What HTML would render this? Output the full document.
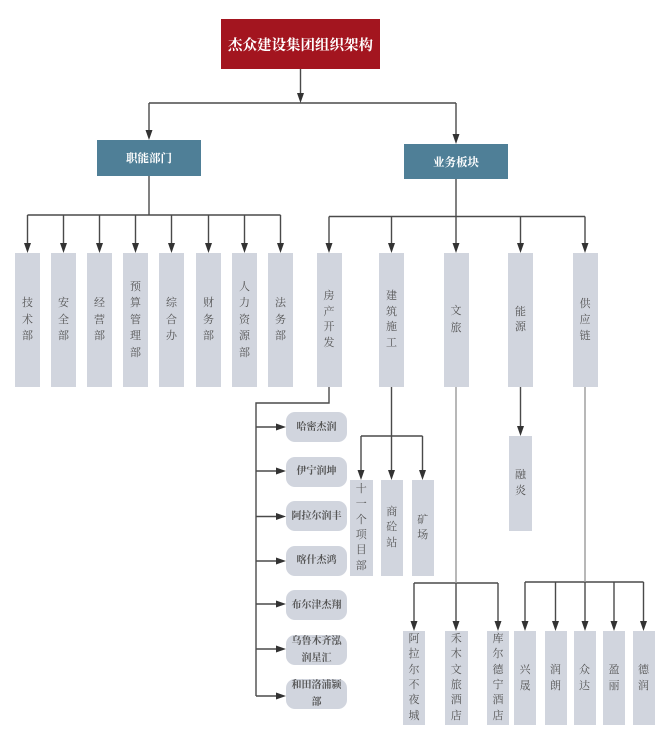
<!DOCTYPE html>
<html><head><meta charset="utf-8">
<style>
html,body{margin:0;padding:0;background:#fff;}
#c{position:relative;width:670px;height:747px;overflow:hidden;background:#fff;font-family:"Liberation Serif","Noto Serif CJK SC",serif;}
svg{position:absolute;left:0;top:0;}
.v{position:absolute;background:#d1d5de;display:flex;align-items:center;justify-content:center;text-align:center;font-size:11px;color:#555;line-height:16.5px;}
.b{line-height:15.4px;}
.p{position:absolute;left:286px;width:61px;height:30px;border-radius:9px;background:#d1d5de;display:flex;align-items:center;justify-content:center;text-align:center;font-size:10px;font-weight:bold;color:#555;line-height:17px;}
.t{position:absolute;left:221px;top:19px;width:159px;height:50px;background:#a3151f;color:#fff;font-weight:bold;font-size:14.5px;display:flex;align-items:center;justify-content:center;}
.bl{position:absolute;background:#4f7f97;color:#fff;font-weight:bold;font-size:11.5px;display:flex;align-items:center;justify-content:center;}
</style></head><body>
<div id="c">
<svg width="670" height="747" viewBox="0 0 670 747">
<g fill="none" stroke="#4a4a4a" stroke-width="1.4">
<path d="M300.5 69V96"/>
<path d="M149 103H456"/>
<path d="M149 103V132M456 103V136"/>
<path d="M149 176V215M27.5 215H280.5"/>
<path d="M27.5 215V245M63.5 215V245M99.5 215V245M135.5 215V245M171.5 215V245M208.5 215V245M244.5 215V245M280.5 215V245"/>
<path d="M456 179V216.5M329 216.5H585"/>
<path d="M329 216.5V245M391.5 216.5V245M456 216.5V245M520.5 216.5V245M585 216.5V245"/>
<path d="M329 387V403H256V696"/>
<path d="M256 427H278M256 471H278M256 516.5H278M256 561H278M256 604H278M256 649H278M256 696H278"/>
<path d="M391.5 387V436M361 436H422.5M361 436V472M391.5 436V472M422.5 436V472"/>
<path d="M520.5 387V428"/>
<path d="M414 583H498M414 583V623M456 583V623M498 583V623"/>
<path d="M525 582H643.5M525 582V623M555.5 582V623M585 582V623M614 582V623M643.5 582V623"/>
</g>
<g fill="none" stroke="#999" stroke-width="1.4">
<path d="M456 387V583"/>
<path d="M585 387V582"/>
</g>
<g fill="#333">
<polygon points="300.5,103 297,93 304,93"/>
<polygon points="149,140 145.5,130 152.5,130"/>
<polygon points="456,144 452.5,134 459.5,134"/>
<polygon points="27.5,253 24,243 31,243"/>
<polygon points="63.5,253 60,243 67,243"/>
<polygon points="99.5,253 96,243 103,243"/>
<polygon points="135.5,253 132,243 139,243"/>
<polygon points="171.5,253 168,243 175,243"/>
<polygon points="208.5,253 205,243 212,243"/>
<polygon points="244.5,253 241,243 248,243"/>
<polygon points="280.5,253 277,243 284,243"/>
<polygon points="329,253 325.5,243 332.5,243"/>
<polygon points="391.5,253 388,243 395,243"/>
<polygon points="456,253 452.5,243 459.5,243"/>
<polygon points="520.5,253 517,243 524,243"/>
<polygon points="585,253 581.5,243 588.5,243"/>
<polygon points="286,427 276,423.5 276,430.5"/>
<polygon points="286,471 276,467.5 276,474.5"/>
<polygon points="286,516.5 276,513 276,520"/>
<polygon points="286,561 276,557.5 276,564.5"/>
<polygon points="286,604 276,600.5 276,607.5"/>
<polygon points="286,649 276,645.5 276,652.5"/>
<polygon points="286,696 276,692.5 276,699.5"/>
<polygon points="361,480 357.5,470 364.5,470"/>
<polygon points="391.5,480 388,470 395,470"/>
<polygon points="422.5,480 419,470 426,470"/>
<polygon points="520.5,436 517,426 524,426"/>
<polygon points="414,631 410.5,621 417.5,621"/>
<polygon points="456,631 452.5,621 459.5,621"/>
<polygon points="498,631 494.5,621 501.5,621"/>
<polygon points="525,631 521.5,621 528.5,621"/>
<polygon points="555.5,631 552,621 559,621"/>
<polygon points="585,631 581.5,621 588.5,621"/>
<polygon points="614,631 610.5,621 617.5,621"/>
<polygon points="643.5,631 640,621 647,621"/>
</g>
</svg>

<div class="t">杰众建设集团组织架构</div>
<div class="bl" style="left:97px;top:140px;width:104px;height:36px;">职能部门</div>
<div class="bl" style="left:404px;top:144px;width:104px;height:35px;">业务板块</div>

<div class="v" style="left:15px;top:253px;width:25px;height:134px;">技<br>术<br>部</div>
<div class="v" style="left:51px;top:253px;width:25px;height:134px;">安<br>全<br>部</div>
<div class="v" style="left:87px;top:253px;width:25px;height:134px;">经<br>营<br>部</div>
<div class="v" style="left:123px;top:253px;width:25px;height:134px;">预<br>算<br>管<br>理<br>部</div>
<div class="v" style="left:159px;top:253px;width:25px;height:134px;">综<br>合<br>办</div>
<div class="v" style="left:196px;top:253px;width:25px;height:134px;">财<br>务<br>部</div>
<div class="v" style="left:232px;top:253px;width:25px;height:134px;">人<br>力<br>资<br>源<br>部</div>
<div class="v" style="left:268px;top:253px;width:25px;height:134px;">法<br>务<br>部</div>

<div class="v" style="left:316.5px;top:253px;width:25px;height:134px;line-height:15.5px;">房<br>产<br>开<br>发</div>
<div class="v" style="left:379px;top:253px;width:25px;height:134px;line-height:15.5px;">建<br>筑<br>施<br>工</div>
<div class="v" style="left:443.5px;top:253px;width:25px;height:134px;line-height:17px;">文<br>旅</div>
<div class="v" style="left:508px;top:253px;width:25px;height:134px;line-height:15.5px;">能<br>源</div>
<div class="v" style="left:572.5px;top:253px;width:25px;height:134px;line-height:16px;">供<br>应<br>链</div>

<div class="p" style="top:412px;">哈密杰润</div>
<div class="p" style="top:456.5px;">伊宁润坤</div>
<div class="p" style="top:501px;">阿拉尔润丰</div>
<div class="p" style="top:545.5px;">喀什杰鸿</div>
<div class="p" style="top:590px;">布尔津杰翔</div>
<div class="p" style="top:635px;">乌鲁木齐泓<br>润星汇</div>
<div class="p" style="top:679px;">和田洛浦颍<br>部</div>

<div class="v b" style="left:350px;top:480px;width:22.5px;height:96px;">十<br>一<br>个<br>项<br>目<br>部</div>
<div class="v b" style="left:380.5px;top:480px;width:22.5px;height:96px;">商<br>砼<br>站</div>
<div class="v b" style="left:411.5px;top:480px;width:22.5px;height:96px;">矿<br>场</div>

<div class="v b" style="left:509px;top:436px;width:23px;height:95px;">融<br>炎</div>

<div class="v b" style="left:403px;top:631px;width:22px;height:94px;">阿<br>拉<br>尔<br>不<br>夜<br>城</div>
<div class="v b" style="left:445px;top:631px;width:22.5px;height:94px;">禾<br>木<br>文<br>旅<br>酒<br>店</div>
<div class="v b" style="left:487px;top:631px;width:22px;height:94px;">库<br>尔<br>德<br>宁<br>酒<br>店</div>

<div class="v b" style="left:514px;top:631px;width:22px;height:94px;line-height:16.5px;">兴<br>晟</div>
<div class="v b" style="left:544.5px;top:631px;width:22px;height:94px;line-height:16.5px;">润<br>朗</div>
<div class="v b" style="left:573.5px;top:631px;width:22px;height:94px;line-height:16.5px;">众<br>达</div>
<div class="v b" style="left:603px;top:631px;width:22px;height:94px;line-height:16.5px;">盈<br>丽</div>
<div class="v b" style="left:632.5px;top:631px;width:22px;height:94px;line-height:16.5px;">德<br>润</div>
</div>
</body></html>
